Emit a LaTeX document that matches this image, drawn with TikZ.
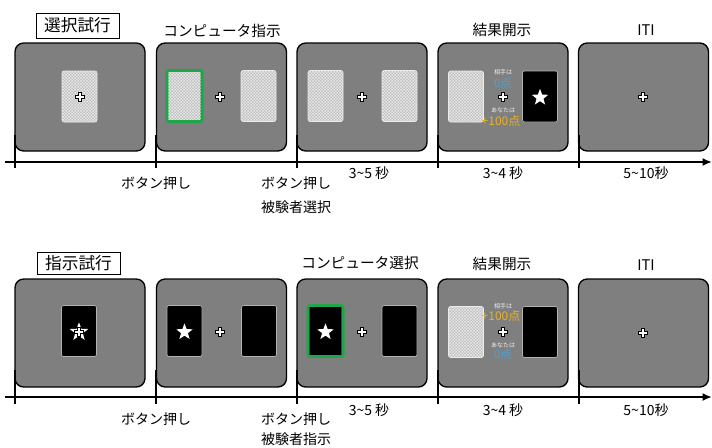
\documentclass[tikz,border=0pt]{standalone}
\usepackage{fontspec}
\setmainfont{Noto Sans CJK JP}
\usetikzlibrary{shapes.geometric,patterns,arrows.meta}
\pgfdeclarepatternformonly{finecheck}{\pgfpointorigin}{\pgfpoint{2.2pt}{2.2pt}}{\pgfpoint{2.2pt}{2.2pt}}{%
  \pgfpathrectangle{\pgfpointorigin}{\pgfpoint{1.1pt}{1.1pt}}%
  \pgfpathrectangle{\pgfpoint{1.1pt}{1.1pt}}{\pgfpoint{1.1pt}{1.1pt}}%
  \pgfusepath{fill}}
\definecolor{scr}{HTML}{7F7F7F}
\definecolor{selgreen}{HTML}{1FA64A}
\definecolor{ptgold}{HTML}{E8B12A}
\definecolor{ptblue}{HTML}{4BA3D6}
\definecolor{cardgray}{HTML}{BDBDBD}
\definecolor{cardlight}{HTML}{E8E8E8}
\tikzset{
  screen/.style={draw=black, line width=1pt, fill=scr, rounded corners=6.5pt,
    minimum width=130*0.75pt, minimum height=108*0.75pt, inner sep=0pt},
  checkcard/.style={draw=white!85!gray, line width=0.4pt, fill=cardgray,
    postaction={pattern=finecheck, pattern color=cardlight},
    rounded corners=1.5pt, minimum width=35*0.75pt, minimum height=51*0.75pt, inner sep=0pt},
  blackcard/.style={draw=gray!60, line width=0.5pt, fill=black, rounded corners=1.5pt,
    minimum width=35*0.75pt, minimum height=51*0.75pt, inner sep=0pt},
  chosen/.style={draw=selgreen, line width=1.9pt, postaction={draw=selgreen, line width=1.9pt}},
  starw/.style={star, star points=5, star point ratio=2.4, fill=white, draw=none,
    minimum size=13pt, inner sep=0pt},
  title/.style={font=\fontsize{11}{13}\selectfont, inner sep=0pt},
  trialbox/.style={draw=black, line width=0.7pt, fill=white, font=\fontsize{12.5}{14}\selectfont,
    minimum width=83*0.75pt, inner sep=0pt},
  lab/.style={font=\fontsize{10.5}{12}\selectfont, inner sep=0pt},
  tinytext/.style={font=\fontsize{4.5}{5}\selectfont, text=white!88!gray, inner sep=0pt},
  scoregold/.style={font=\fontsize{9}{10}\selectfont, text=ptgold, inner sep=0pt},
  scoreblue/.style={font=\fontsize{8.5}{9}\selectfont, text=ptblue, inner sep=0pt},
  timeline/.style={line width=1.5pt, -{Latex[length=7pt,width=6pt]}},
  tickline/.style={line width=1.2pt},
  fixcross/.pic={\draw[line width=0.7pt, fill=white, draw=black]
    (-1.8,-4.6) -- (1.8,-4.6) -- (1.8,-1.8) -- (4.6,-1.8) -- (4.6,1.8) -- (1.8,1.8)
    -- (1.8,4.6) -- (-1.8,4.6) -- (-1.8,1.8) -- (-4.6,1.8) -- (-4.6,-1.8) -- (-1.8,-1.8) -- cycle;}
}
\begin{document}
\begin{tikzpicture}[x=0.75pt,y=-0.75pt]
\useasboundingbox (0,0) rectangle (712,447);
\fill[white] (0,0) rectangle (712,447);

% ================= TOP ROW =================
\node[trialbox, minimum height=25*0.75pt] (tr1) at (77.5,25.5) {選択試行};
\node[title] (h12) at (222,31) {コンピュータ指示};
\node[title] (h14) at (502,30) {結果開示};
\node[title] (h15) at (646,30) {ITI};

\node[screen] (s1) at (80,97) {};
\node[screen] (s2) at (221.5,97) {};
\node[screen] (s3) at (362,97) {};
\node[screen] (s4) at (503,97) {};
\node[screen] (s5) at (643.5,97) {};

\node[checkcard] (c11) at (79.5,96.5) {};
\pic at (80,97) {fixcross};

\node[checkcard, chosen] (c21) at (184.5,96) {};
\node[checkcard] (c22) at (258.5,96) {};
\pic at (220,97) {fixcross};

\node[checkcard] (c31) at (325.5,96) {};
\node[checkcard] (c32) at (399.5,96) {};
\pic at (362,97) {fixcross};

\node[checkcard] (c41) at (466,96.5) {};
\node[blackcard] (c42) at (540,96.5) {};
\node[starw] (st42) at (540,97.5) {};
\pic at (503,97) {fixcross};
\node[tinytext] (r1a) at (503,72.5) {相手は};
\node[scoreblue] (r1b) at (503,83) {0点};
\node[tinytext] (r1c) at (503,110) {あなたは};
\node[scoregold] (r1d) at (501,121) {+100点};

\pic at (643,97) {fixcross};

% timeline top
\coordinate (tlA) at (5,162);
\coordinate (tlB) at (712,162);
\draw[timeline] (tlA) -- (tlB);
\foreach \x/\n in {15/1,156/2,297/3,438/4,579/5}{
  \coordinate (tka\n) at (\x,135);
  \coordinate (tkb\n) at (\x,168);
  \draw[tickline] (tka\n) -- (tkb\n);
}
\node[lab] (l11) at (156,183) {ボタン押し};
\node[lab] (l12) at (296,183) {ボタン押し};
\node[lab] (l13) at (296,207) {被験者選択};
\node[lab] (l14) at (369,173) {3\textasciitilde5 秒};
\node[lab] (l15) at (503,173) {3\textasciitilde4 秒};
\node[lab] (l16) at (646,173) {5\textasciitilde10秒};

% ================= BOTTOM ROW =================
\node[trialbox, minimum height=22*0.75pt] (tr2) at (78.5,263.5) {指示試行};
\node[title] (h23) at (360,263) {コンピュータ選択};
\node[title] (h24) at (502,264) {結果開示};
\node[title] (h25) at (646,265) {ITI};

\node[screen] (b1) at (80,333) {};
\node[screen] (b2) at (221.5,333) {};
\node[screen] (b3) at (362,333) {};
\node[screen] (b4) at (503,333) {};
\node[screen] (b5) at (643.5,333) {};

\node[blackcard] (d11) at (79,331) {};
\node[starw, minimum size=14.5pt] (st11) at (79,332) {};
\pic at (79,332) {fixcross};

\node[blackcard] (d21) at (184.5,331) {};
\node[starw] (st21) at (184.5,332) {};
\node[blackcard] (d22) at (259,331) {};
\pic at (220,332) {fixcross};

\node[blackcard, chosen] (d31) at (325.5,331) {};
\node[starw] (st31) at (325.5,332) {};
\node[blackcard] (d32) at (399.5,331) {};
\pic at (362,332) {fixcross};

\node[checkcard] (d41) at (466,332) {};
\node[blackcard] (d42) at (540,332) {};
\pic at (503,332) {fixcross};
\node[tinytext] (r2a) at (503,306) {相手は};
\node[scoregold] (r2b) at (501,315.5) {+100点};
\node[tinytext] (r2c) at (503,345) {あなたは};
\node[scoreblue] (r2d) at (503,354) {0点};

\pic at (643,333) {fixcross};

% timeline bottom
\coordinate (blA) at (5,397);
\coordinate (blB) at (712,397);
\draw[timeline] (blA) -- (blB);
\foreach \x/\n in {15/1,156/2,297/3,438/4,579/5}{
  \coordinate (bka\n) at (\x,370);
  \coordinate (bkb\n) at (\x,404);
  \draw[tickline] (bka\n) -- (bkb\n);
}
\node[lab] (l21) at (156,419) {ボタン押し};
\node[lab] (l22) at (296,419) {ボタン押し};
\node[lab] (l23) at (296,439) {被験者指示};
\node[lab] (l24) at (369,410) {3\textasciitilde5 秒};
\node[lab] (l25) at (503,410) {3\textasciitilde4 秒};
\node[lab] (l26) at (646,410) {5\textasciitilde10秒};
\end{tikzpicture}
\end{document}
